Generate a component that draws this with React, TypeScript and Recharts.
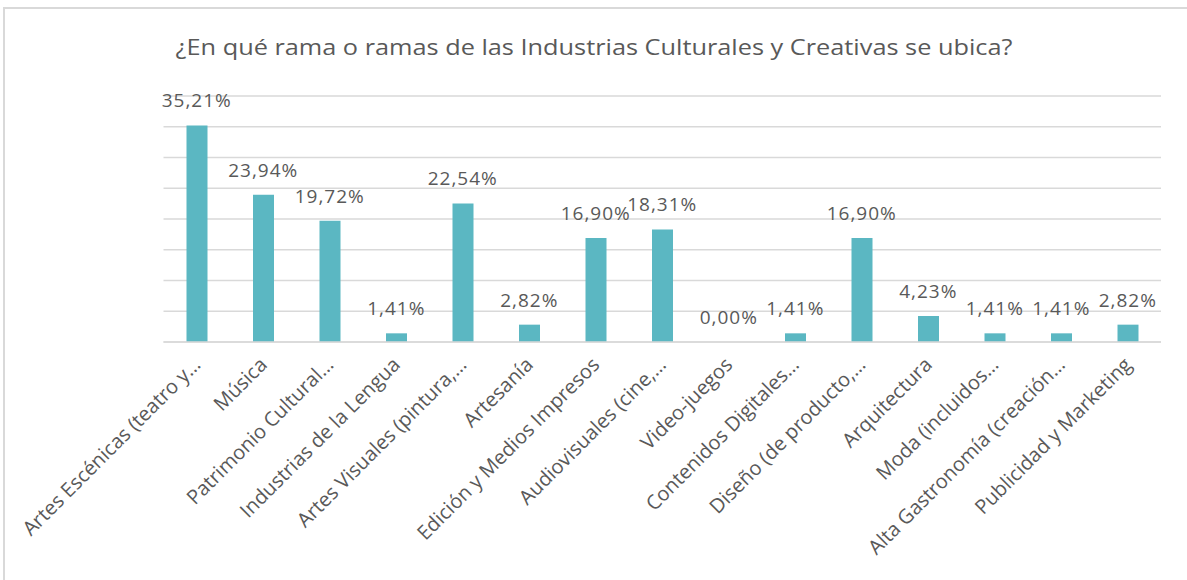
import React from "react";
import { ComposedChart, Bar, Line, XAxis, YAxis, CartesianGrid, LabelList } from "recharts";

const categories = [
  "Artes Escénicas (teatro y…",
  "Música",
  "Patrimonio Cultural…",
  "Industrias de la Lengua",
  "Artes Visuales (pintura,…",
  "Artesanía",
  "Edición y Medios Impresos",
  "Audiovisuales (cine,…",
  "Video-juegos",
  "Contenidos Digitales…",
  "Diseño (de producto,…",
  "Arquitectura",
  "Moda (incluidos…",
  "Alta Gastronomía (creación…",
  "Publicidad y Marketing",
];

const values = [35.21, 23.94, 19.72, 1.41, 22.54, 2.82, 16.9, 18.31, 0.0, 1.41, 16.9, 4.23, 1.41, 1.41, 2.82];

const yTicks = [0, 5, 10, 15, 20, 25, 30, 35, 40];

const title = "¿En qué rama o ramas de las Industrias Culturales y Creativas se ubica?";

const data = categories.map((name, i) => ({ name, value: values[i] }));

const FONT = "'Open Sans', sans-serif";
const TEXT = "#595959";

const CatTick = (props: any) => {
  const { x, payload } = props;
  const ax = x + 5;
  const ay = 366;
  return (
    <text
      x={ax}
      y={ay}
      transform={`rotate(-45 ${ax} ${ay})`}
      textAnchor="end"
      fontFamily={FONT}
      fontSize={20}
      fill={TEXT}
    >
      {payload.value}
    </text>
  );
};

const fmt = (v: number) => v.toFixed(2).replace(".", ",") + "%";

export default function App() {
  return (
    <div style={{ position: "absolute", left: 0, top: 0, width: 1187, height: 580, background: "#fff", overflow: "hidden" }}>
      <div
        style={{
          position: "absolute",
          left: 3,
          top: 7,
          width: 1184,
          height: 573,
          borderLeft: "2px solid #D9D9D9",
          borderTop: "2px solid #D9D9D9",
          boxSizing: "border-box",
        }}
      />
      <div
        style={{
          position: "absolute",
          left: 594 - 400,
          top: 31,
          width: 800,
          textAlign: "center",
          fontFamily: FONT,
          fontSize: 22,
          color: TEXT,
          whiteSpace: "nowrap",
          transform: "scaleX(1.15)",
          transformOrigin: "50% 50%",
        }}
      >
        {title}
      </div>
      <div style={{ position: "absolute", left: 0, top: 0 }}>
        <ComposedChart
          width={1187}
          height={580}
          data={data}
          margin={{ top: 96, right: 26, left: 163.5, bottom: 0 }}
          barSize={21}
        >
          <CartesianGrid horizontal vertical={false} stroke="#D9D9D9" strokeWidth={1.5} />
          <YAxis hide domain={[0, 40]} ticks={yTicks} type="number" />
          <XAxis
            dataKey="name"
            interval={0}
            height={238}
            tickLine={false}
            axisLine={{ stroke: "#D9D9D9", strokeWidth: 1.5 }}
            tick={<CatTick />}
          />
          <Bar dataKey="value" fill="#5BB7C2" isAnimationActive={false} />
          <Line
            dataKey="value"
            stroke="none"
            dot={false}
            activeDot={false}
            isAnimationActive={false}
            legendType="none"
          >
            <LabelList
              dataKey="value"
              position="top"
              offset={18}
              formatter={(v: any) => fmt(Number(v))}
              style={{ fontFamily: FONT, fontSize: 19, fill: TEXT, letterSpacing: 1 }}
            />
          </Line>
        </ComposedChart>
      </div>
    </div>
  );
}
